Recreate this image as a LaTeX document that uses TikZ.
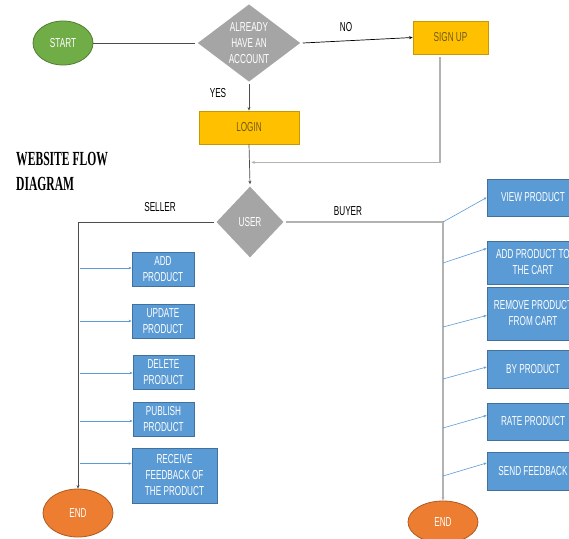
\documentclass[tikz,border=0pt]{standalone}
\usepackage{fontspec}
\newfontfamily\narrowfont[FakeStretch=0.63]{Liberation Sans}
\newfontfamily\titlefont[FakeStretch=0.58]{Liberation Serif}
\usetikzlibrary{shapes.geometric,arrows.meta,calc}
\definecolor{startgreen}{HTML}{70AD47}
\definecolor{startedge}{HTML}{507E32}
\definecolor{decgray}{HTML}{A5A5A5}
\definecolor{signgold}{HTML}{FFC000}
\definecolor{goldedge}{HTML}{C99700}
\definecolor{goldtext}{HTML}{6E5A1A}
\definecolor{actblue}{HTML}{5B9BD5}
\definecolor{blueedge}{HTML}{41719C}
\definecolor{endorange}{HTML}{ED7D31}
\definecolor{orangeedge}{HTML}{AE5A21}
\tikzset{
 base/.style={font=\narrowfont\fontsize{13}{16}\selectfont,align=center,inner sep=0pt},
 terminal/.style={base,ellipse,text=white,line width=0.8pt},
 decision/.style={base,diamond,fill=decgray,draw=white,line width=1.5pt,text=white},
 goldbox/.style={base,rectangle,fill=signgold,draw=goldedge,line width=0.8pt,text=goldtext},
 bluebox/.style={base,rectangle,fill=actblue,draw=blueedge,line width=0.8pt,text=white},
 tag/.style={base,text=black},
 flow/.style={draw=black!70,line width=0.7pt},
 pale/.style={draw=black!30,line width=1.2pt},
 feed/.style={draw=actblue,line width=0.6pt,-{Stealth[length=3pt,width=2.5pt]}},
 tip/.style={-{Stealth[length=3.5pt,width=3pt]}},
}
\begin{document}
\begin{tikzpicture}[x=1pt,y=-1pt]
\useasboundingbox[fill=white] (0,0) rectangle (569,538);
\clip (0,0) rectangle (569,538);
% top part
\node[terminal,fill=startgreen,draw=startedge,minimum width=60pt,minimum height=44pt] (start) at (63,43) {START};
\node[decision,minimum width=106pt,minimum height=80pt,
 label={[base,text=white]center:ALREADY\\HAVE AN\\ACCOUNT}] (acct) at (249,43) {};
\node[goldbox,minimum width=75pt,minimum height=33pt] (signup) at (450.5,37.5) {SIGN UP};
\node[goldbox,minimum width=100pt,minimum height=33pt] (login) at (249,127.5) {LOGIN};
\node[decision,minimum width=70pt,minimum height=74pt] (user) at (250,222) {USER};
\node[anchor=north west,align=left,inner sep=0pt,font=\titlefont\bfseries\fontsize{20}{25}\selectfont] (title) at (16,152) {WEBSITE FLOW\\DIAGRAM};
\node[tag] (no) at (346,27) {NO};
\node[tag] (yes) at (218,93) {YES};
\node[tag] (seller) at (160,207) {SELLER};
\node[tag] (buyer) at (348,211) {BUYER};
\coordinate (back) at (440,57);
\draw[flow] (start) -- (acct);
\draw[flow,draw=black,tip] (acct.east) -- (signup.west);
\draw[flow,tip] (acct.south) -- (login.north);
\draw[pale,tip] (back) |- ($(login.south)!.45!(user.north)+(2,0)$);
\draw[flow,tip] (login.south) -- (user.north);
% seller side
\node[terminal,fill=endorange,draw=orangeedge,minimum width=70pt,minimum height=48pt] (lend) at (78,513) {END};
\node[bluebox,minimum width=62pt,minimum height=34pt] (add) at (163,269) {ADD\\PRODUCT};
\node[bluebox,minimum width=62pt,minimum height=34pt] (update) at (163,321) {UPDATE\\PRODUCT};
\node[bluebox,minimum width=61pt,minimum height=34pt] (delete) at (163.5,372) {DELETE\\PRODUCT};
\node[bluebox,minimum width=61pt,minimum height=34pt] (publish) at (163.5,419) {PUBLISH\\PRODUCT};
\node[bluebox,minimum width=85pt,minimum height=55pt] (receive) at (174.5,475.5) {RECEIVE\\FEEDBACK OF\\THE PRODUCT};
\draw[flow,tip] (user.west) -| (lend.north);
\foreach \b/\d in {add/-1,update/0,delete/1,publish/2,receive/-12}
 \draw[feed] ($(lend.north |- \b.west)+(2,\d)$) -- ($(\b.west)+(0,\d)$);
% buyer side
\node[terminal,fill=endorange,draw=orangeedge,minimum width=70pt,minimum height=42pt] (rend) at (443,522) {END};
\node[bluebox,minimum width=92pt,minimum height=37pt] (view) at (533,197.5) {VIEW PRODUCT};
\node[bluebox,minimum width=92pt,minimum height=43pt] (cart) at (533,262.5) {ADD PRODUCT TO\\THE CART};
\node[bluebox,minimum width=92pt,minimum height=53pt] (remove) at (533,313.5) {REMOVE PRODUCT\\FROM CART};
\node[bluebox,minimum width=92pt,minimum height=38pt] (buy) at (533,369) {BY PRODUCT};
\node[bluebox,minimum width=92pt,minimum height=37pt] (rate) at (533,421.5) {RATE PRODUCT};
\node[bluebox,minimum width=92pt,minimum height=38pt] (send) at (533,471) {SEND FEEDBACK};
\draw[pale,tip] (user.east) -| (rend.north);
\foreach \b/\s/\e in {view/222/0,cart/263/-14,remove/327/2,buy/379/-2,rate/428/-6,send/476/-8}
 \draw[feed] (rend.north |- 0,\s) -- ($(\b.west)+(0,\e)$);
\end{tikzpicture}
\end{document}
